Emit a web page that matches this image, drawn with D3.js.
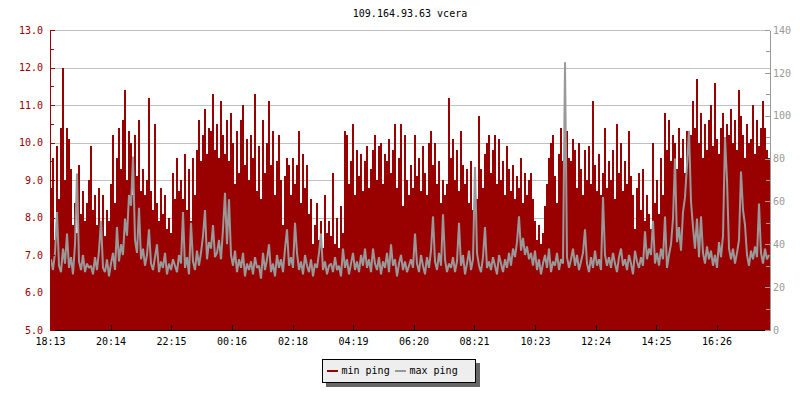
<!DOCTYPE html>
<html>
<head>
<meta charset="utf-8">
<script src="https://cdn.jsdelivr.net/npm/d3@7"></script>
<style>
body { margin: 0; background: #fff; }
text { font-family: "DejaVu Sans Mono", monospace; font-size: 10px; }
</style>
</head>
<body>
<svg width="800" height="400"></svg>
<script>
// one sample every 4 minutes, 24h starting at 18:13
var title = "109.164.93.63 vcera";
var stepMinutes = 4;
var spanHours = 24;
var tickLabels = ["18:13", "20:14", "22:15", "00:16", "02:18", "04:19", "06:20", "08:21", "10:23", "12:24", "14:25", "16:26"];
var seriesNames = ["min ping", "max ping"];

// min ping (left axis)
var minPing = [
  8.8,9.6,7.4,9.9,8.5,10.4,12.0,9.0,10.4,10.1,9.3,7.8,8.4,7.6,9.4,8.1,8.7,7.9,8.4,9.0,
  9.9,8.2,8.6,7.8,8.8,7.7,8.6,7.5,8.2,7.9,8.9,10.2,8.4,9.6,10.4,9.3,10.6,11.4,9.0,10.3,
  10.0,8.6,10.2,9.1,10.6,8.7,9.3,8.6,9.0,11.2,8.7,8.2,10.5,8.4,7.9,8.8,8.1,8.6,7.7,8.0,
  7.6,9.2,8.5,9.6,8.7,9.0,8.5,9.7,8.2,9.3,7.9,9.6,8.6,9.8,10.6,9.5,10.2,10.9,9.7,10.4,
  10.3,11.3,9.8,10.5,9.6,11.1,10.2,9.7,10.6,9.5,10.8,10.0,8.9,10.3,9.2,10.6,11.0,9.4,10.1,9.0,
  10.2,9.6,11.3,8.7,9.9,8.5,10.6,9.2,10.0,11.1,9.4,10.3,8.6,9.5,10.2,9.0,7.8,9.1,9.6,9.4,
  8.6,9.6,8.9,9.4,10.3,8.4,9.7,8.8,9.4,8.1,8.5,7.3,7.8,8.4,7.4,7.9,7.2,8.6,7.6,7.9,
  7.5,9.2,7.3,8.0,7.2,8.3,7.6,10.3,10.2,8.9,9.5,10.5,8.6,9.8,9.1,9.7,8.7,9.5,9.9,8.8,
  9.3,9.8,10.2,9.0,9.9,10.0,8.9,9.7,9.5,10.1,9.2,9.8,10.5,8.8,9.6,10.5,8.3,10.2,9.0,8.6,
  9.4,8.8,10.2,9.1,9.6,8.7,9.9,9.2,8.6,10.0,10.3,9.4,10.0,8.9,9.5,8.4,9.0,8.6,8.9,11.2,
  9.6,10.1,9.0,9.8,8.7,10.3,9.4,8.9,9.3,8.4,9.5,8.2,9.1,8.5,10.7,9.3,8.8,9.7,10.0,10.2,
  9.2,9.8,10.2,8.9,10.1,9.0,9.5,8.6,9.9,9.3,8.7,9.4,8.5,9.1,8.8,9.6,8.4,9.2,8.6,9.0,
  9.2,8.5,7.9,7.4,7.8,7.3,7.6,8.3,8.9,9.6,10.0,10.2,9.1,8.4,9.7,10.4,9.5,10.1,10.3,9.6,
  9.5,10.1,9.8,8.8,10.0,9.3,8.6,9.8,9.0,9.9,8.9,11.1,9.4,8.7,9.7,8.6,9.2,10.4,8.8,9.5,
  9.0,9.8,8.5,10.5,9.2,10.0,8.7,9.5,8.9,10.3,9.1,8.6,7.7,8.8,9.2,8.2,9.3,7.9,8.6,8.1,
  7.7,10.0,8.4,9.0,8.1,9.6,8.6,10.8,9.8,10.6,9.5,10.2,10.0,9.3,10.4,9.6,10.1,9.2,10.3,9.7,
  10.2,11.1,10.4,11.7,10.0,10.8,9.6,10.5,9.8,10.6,11.0,9.9,11.6,10.1,9.7,10.4,10.8,9.9,10.5,10.2,
  10.9,10.0,10.6,9.8,11.4,10.7,10.2,9.6,10.5,10.0,10.1,11.0,9.7,10.6,9.9,10.4,11.1,10.4,9.8,9.6
];

// max ping (right axis)
var maxPing = [
  33,28,36,55,30,27,38,31,45,29,34,26,40,73,32,28,35,27,31,29,
  30,26,34,28,37,51,29,27,33,25,31,36,28,48,32,40,35,52,44,63,
  58,81,42,36,57,33,38,30,35,47,31,28,34,40,27,32,29,36,26,31,
  28,33,30,27,35,31,55,29,34,26,50,32,28,37,30,36,44,56,33,41,
  38,49,34,36,42,33,47,64,40,61,35,30,37,27,33,29,36,25,31,28,
  32,26,34,29,30,24,36,28,33,40,27,31,25,35,29,33,27,38,47,30,
  34,29,50,36,28,32,26,35,30,27,33,25,31,29,36,45,28,32,26,30,
  31,27,34,28,30,25,38,29,33,26,31,36,28,32,27,35,30,38,29,33,
  27,38,31,28,34,26,32,29,36,27,40,30,33,25,31,35,28,32,27,30,
  33,29,45,31,27,35,30,26,34,29,37,53,32,28,36,30,54,33,27,31,
  29,34,27,32,50,30,35,26,31,37,28,33,76,36,30,27,34,48,29,32,
  28,34,30,26,35,31,27,33,29,36,30,38,34,41,53,37,43,35,39,33,
  36,30,37,28,33,26,31,35,29,38,27,32,30,36,28,33,31,125,34,29,
  33,38,30,35,28,32,36,47,31,27,34,29,37,30,33,28,62,35,30,34,
  29,36,31,27,34,38,30,33,28,35,31,26,37,32,29,34,30,46,33,38,
  35,51,31,36,30,38,33,53,29,35,40,52,80,41,48,37,55,62,77,93,
  60,48,38,52,34,53,36,31,39,33,37,30,35,29,41,34,44,90,70,38,
  33,38,31,36,42,74,56,49,35,30,37,33,39,34,59,36,31,38,33,35
];

var svg = d3.select("svg"),
    margin = {top: 30, right: 30, bottom: 70, left: 50},
    width = +svg.attr("width") - margin.left - margin.right,
    height = +svg.attr("height") - margin.top - margin.bottom;

var parseTime = d3.timeParse("%H:%M");
var start = parseTime(tickLabels[0]);
var end = d3.timeHour.offset(start, spanHours);

// tick times, rolling over midnight
var tickTimes = [], prev = start, dayShift = 0;
tickLabels.forEach(function(l) {
  var t = d3.timeDay.offset(parseTime(l), dayShift);
  if (t < prev) { dayShift++; t = d3.timeDay.offset(t, 1); }
  tickTimes.push(t);
  prev = t;
});

var data = minPing.map(function(v, i) {
  return {
    t0: d3.timeMinute.offset(start, i * stepMinutes),
    t1: d3.timeMinute.offset(start, (i + 1) * stepMinutes),
    min: v,
    max: maxPing[i]
  };
});

var x = d3.scaleTime().domain([start, end]).range([0, width]),
    yL = d3.scaleLinear().domain([5, 13]).range([height, 0]),
    yR = d3.scaleLinear().domain([0, 140]).range([height, 0]);

var red = "#990000", grey = "#999999";

svg.append("text")
    .attr("x", margin.left + width / 2)
    .attr("y", 17)
    .attr("text-anchor", "middle")
    .attr("fill", "#000")
    .text(title);

var g = svg.append("g")
    .attr("transform", "translate(" + margin.left + "," + margin.top + ")");

// grid
g.selectAll(".grid")
  .data(yL.ticks(8).filter(function(d) { return d > 5; }))
  .enter().append("line")
    .attr("x1", 0)
    .attr("x2", width)
    .attr("y1", function(d) { return yL(d) + 0.5; })
    .attr("y2", function(d) { return yL(d) + 0.5; })
    .attr("stroke", "#c0c0c0")
    .attr("shape-rendering", "crispEdges");

// min ping bars
g.selectAll(".bar")
  .data(data)
  .enter().append("rect")
    .attr("x", function(d) { return x(d.t0); })
    .attr("y", function(d) { return yL(d.min); })
    .attr("width", function(d) { return x(d.t1) - x(d.t0); })
    .attr("height", function(d) { return height - yL(d.min); })
    .attr("fill", red)
    .attr("shape-rendering", "crispEdges");

// max ping line
var line = d3.line()
    .x(function(d) { return (x(d.t0) + x(d.t1)) / 2; })
    .y(function(d) { return yR(d.max); });

g.append("path")
    .datum(data)
    .attr("d", line)
    .attr("fill", "none")
    .attr("stroke", grey)
    .attr("stroke-width", 2)
    .attr("stroke-linejoin", "bevel");

function styleAxis(sel, color) {
  sel.attr("font-family", "DejaVu Sans Mono").attr("font-size", 10);
  sel.selectAll("path, line").attr("stroke", color).attr("shape-rendering", "crispEdges");
  sel.selectAll("text").attr("fill", color);
}

// x axis
g.append("g")
    .attr("transform", "translate(0," + height + ")")
    .call(d3.axisBottom(x)
        .tickValues(tickTimes)
        .tickFormat(function(d, i) { return tickLabels[i]; })
        .tickSizeInner(-5).tickSizeOuter(0).tickPadding(8))
    .call(styleAxis, "#000");

// left axis
g.append("g")
    .call(d3.axisLeft(yL).ticks(8)
        .tickFormat(d3.format(".1f"))
        .tickSizeInner(-5).tickSizeOuter(0).tickPadding(7))
    .call(styleAxis, red);
g.append("g")
    .call(d3.axisLeft(yL).tickValues(d3.range(5.5, 13, 1))
        .tickFormat("").tickSizeInner(-4).tickSizeOuter(0))
    .call(styleAxis, red)
    .select(".domain").remove();

// right axis
g.append("g")
    .attr("transform", "translate(" + width + ",0)")
    .call(d3.axisRight(yR).tickValues(d3.range(0, 141, 20))
        .tickSizeInner(-5).tickSizeOuter(0).tickPadding(3))
    .call(styleAxis, grey);
g.append("g")
    .attr("transform", "translate(" + width + ",0)")
    .call(d3.axisRight(yR).tickValues(d3.range(10, 140, 20))
        .tickFormat("").tickSizeInner(-4).tickSizeOuter(0))
    .call(styleAxis, grey)
    .select(".domain").remove();

// legend
var legend = svg.append("g").attr("transform", "translate(322,359)");
legend.append("rect")
    .attr("x", 4).attr("y", 4).attr("width", 154).attr("height", 24)
    .attr("fill", "#666");
legend.append("rect")
    .attr("x", 0.5).attr("y", 0.5).attr("width", 153).attr("height", 23)
    .attr("fill", "#eeeeee").attr("stroke", "#000")
    .attr("shape-rendering", "crispEdges");

var items = legend.selectAll(".item")
  .data(seriesNames)
  .enter().append("g")
    .attr("transform", function(d, i) { return "translate(" + (5 + i * 68) + ",0)"; });
items.append("rect")
    .attr("x", 0).attr("y", 11).attr("width", 11).attr("height", 2)
    .attr("fill", function(d, i) { return i === 0 ? red : grey; });
items.append("text")
    .attr("x", 14.5).attr("y", 15)
    .attr("fill", "#000")
    .text(function(d) { return d; });
</script>
</body>
</html>
